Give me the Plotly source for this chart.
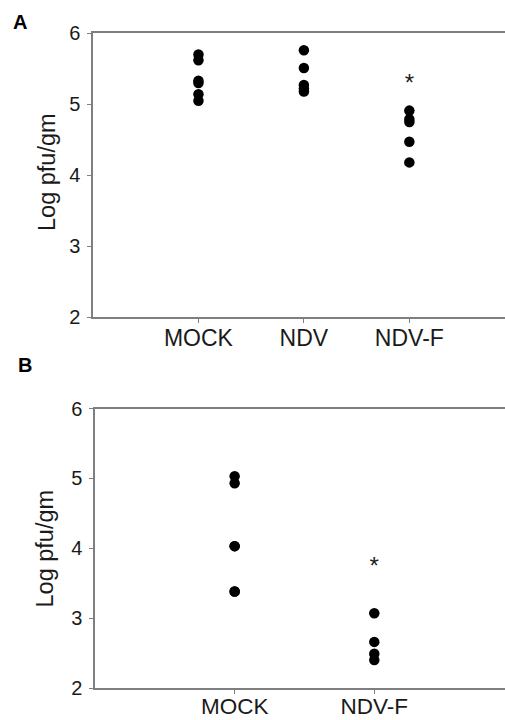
import plotly.graph_objects as go

# Panel A data
cats_a = ["MOCK", "NDV", "NDV-F"]
mock_a = [5.70, 5.62, 5.33, 5.30, 5.14, 5.05]
ndv_a = [5.76, 5.51, 5.27, 5.22, 5.18]
ndvf_a = [4.91, 4.79, 4.75, 4.47, 4.18]
star_a = [None, None, 5.27]

# Panel B data
cats_b = ["MOCK", "NDV-F"]
mock_b = [5.03, 4.93, 4.03, 4.03, 3.38, 3.38]
ndvf_b = [3.07, 2.66, 2.49, 2.40]
star_b = [None, 3.72]

y_ticks = [2, 3, 4, 5, 6]

FONT = "Arial, Liberation Sans, sans-serif"
AXC = "#7f7f7f"
W, H = 505, 720

fig = go.Figure()

def add_group(vals, xpos, xa, ya):
    fig.add_trace(go.Scatter(
        x=[xpos] * len(vals), y=vals, mode="markers",
        marker=dict(color="black", size=10.5, line=dict(width=0)),
        xaxis=xa, yaxis=ya, showlegend=False, hoverinfo="y"))

for i, vals in enumerate([mock_a, ndv_a, ndvf_a]):
    add_group(vals, i + 1, "x", "y")
for i, vals in enumerate([mock_b, ndvf_b]):
    add_group(vals, i + 1, "x2", "y2")

def add_stars(stars, xa, ya):
    xs = [i + 1 for i, s in enumerate(stars) if s is not None]
    ys = [s for s in stars if s is not None]
    fig.add_trace(go.Scatter(
        x=xs, y=ys, mode="text", text=["*"] * len(xs),
        textfont=dict(family=FONT, size=24, color="#222"),
        textposition="middle center",
        xaxis=xa, yaxis=ya, showlegend=False, hoverinfo="skip"))

add_stars(star_a, "x", "y")
add_stars(star_b, "x2", "y2")

def xaxis_cfg(domain, rng, cats, standoff, fsize):
    return dict(
        domain=domain, range=rng, tickmode="array", automargin=False,
        tickvals=list(range(1, len(cats) + 1)), ticktext=cats,
        ticklabelstandoff=standoff,
        showgrid=False, zeroline=False, showline=True, linecolor=AXC,
        linewidth=1.5, mirror=True, ticks="outside", ticklen=4,
        tickcolor=AXC, tickwidth=1,
        tickfont=dict(family=FONT, size=fsize, color="#1a1a1a"))

def yaxis_cfg(domain, anchor):
    return dict(
        domain=domain, range=[2, 6], tickmode="array", tickvals=y_ticks,
        automargin=False, ticklabelstandoff=3,
        showgrid=False, zeroline=False, showline=True, linecolor=AXC,
        linewidth=1.5, ticks="outside", ticklen=4, tickcolor=AXC,
        tickwidth=1, anchor=anchor,
        tickfont=dict(family=FONT, size=20, color="#1a1a1a"))

fig.update_layout(
    width=W, height=H, margin=dict(l=0, r=0, t=0, b=0, autoexpand=False),
    paper_bgcolor="white", plot_bgcolor="white",
    xaxis=xaxis_cfg([93 / W, 1], [0, 3.907], cats_a, -4, 23) | dict(anchor="y"),
    yaxis=yaxis_cfg([(H - 317) / H, (H - 33.3) / H], "x"),
    xaxis2=xaxis_cfg([95 / W, 1], [0, 2.936], cats_b, -7, 22.5) | dict(anchor="y2"),
    yaxis2=yaxis_cfg([(H - 688) / H, (H - 408.5) / H], "x2"),
)

annots = [
    dict(text="<b>A</b>", x=20 / W, y=(H - 22) / H),
    dict(text="<b>B</b>", x=25 / W, y=(H - 365) / H),
]
for a in annots:
    fig.add_annotation(xref="paper", yref="paper", showarrow=False,
                       font=dict(family=FONT, size=20, color="black"),
                       xanchor="center", yanchor="middle", **a)

for xc, yc in [(47, 172), (44.5, 549)]:
    fig.add_annotation(xref="paper", yref="paper", showarrow=False,
                       text="Log pfu/gm", textangle=-90,
                       font=dict(family=FONT, size=23.5, color="#1a1a1a"),
                       x=xc / W, y=(H - yc) / H,
                       xanchor="center", yanchor="middle")

fig.write_html("out.html")
